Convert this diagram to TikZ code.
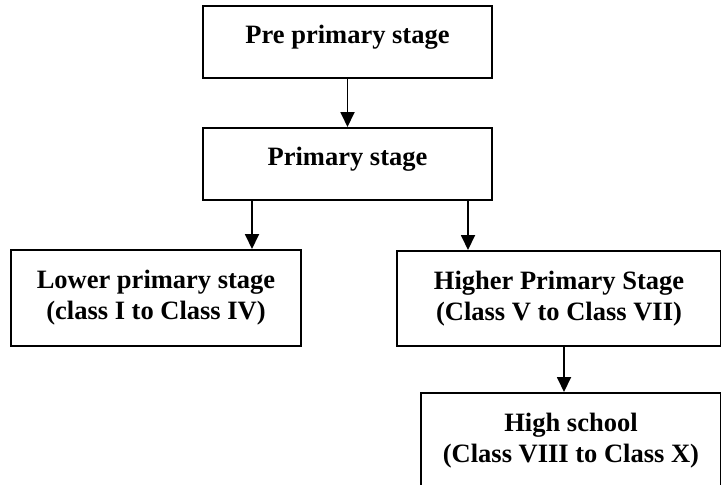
\documentclass[tikz,border=0pt]{standalone}
\usepackage{fontspec}
\setmainfont{Liberation Serif}
\usetikzlibrary{arrows.meta, positioning}

\begin{document}
\begin{tikzpicture}[
    x=1pt, y=1pt,
    node distance=24pt,
    box/.style={draw, line width=1pt, align=center, inner sep=0pt, font=\fontsize{13.25}{15.5}\selectfont\bfseries},
    onebox/.style={box, minimum width=144.5pt, minimum height=36pt, text height=9pt, text depth=8pt},
    twobox/.style={box, minimum height=48pt},
    arr/.style={-{Triangle[length=7.5pt, width=7pt]}, line width=0.9pt}
]
\useasboundingbox (0,0) rectangle (360.5,-242);
\node[onebox] (pre) at (173.75,-21) {Pre primary stage};
\node[onebox, below=of pre] (primary) {Primary stage};
\node[twobox, minimum width=145pt, below=of primary.south west, xshift=-23pt] (lower) {Lower primary stage\\(class I to Class IV)};
\node[twobox, minimum width=162pt, minimum height=47.5pt, below=24.5pt of primary.south east, xshift=33pt] (higher) {Higher Primary Stage\\(Class V to Class VII)};
\node[twobox, minimum width=150pt, below=22.5pt of higher, xshift=6pt] (high) {High school\\(Class VIII to Class X)};

\draw[arr] (pre) -- (primary);
\draw[arr] ([xshift=-47.75pt]primary.south) -- ([xshift=-47.75pt]primary.south |- lower.north);
\draw[arr] ([xshift=60.25pt]primary.south) -- ([xshift=60.25pt]primary.south |- higher.north);
\draw[arr] ([xshift=2.5pt]higher.south) -- ([xshift=2.5pt]higher.south |- high.north);
\end{tikzpicture}
\end{document}
